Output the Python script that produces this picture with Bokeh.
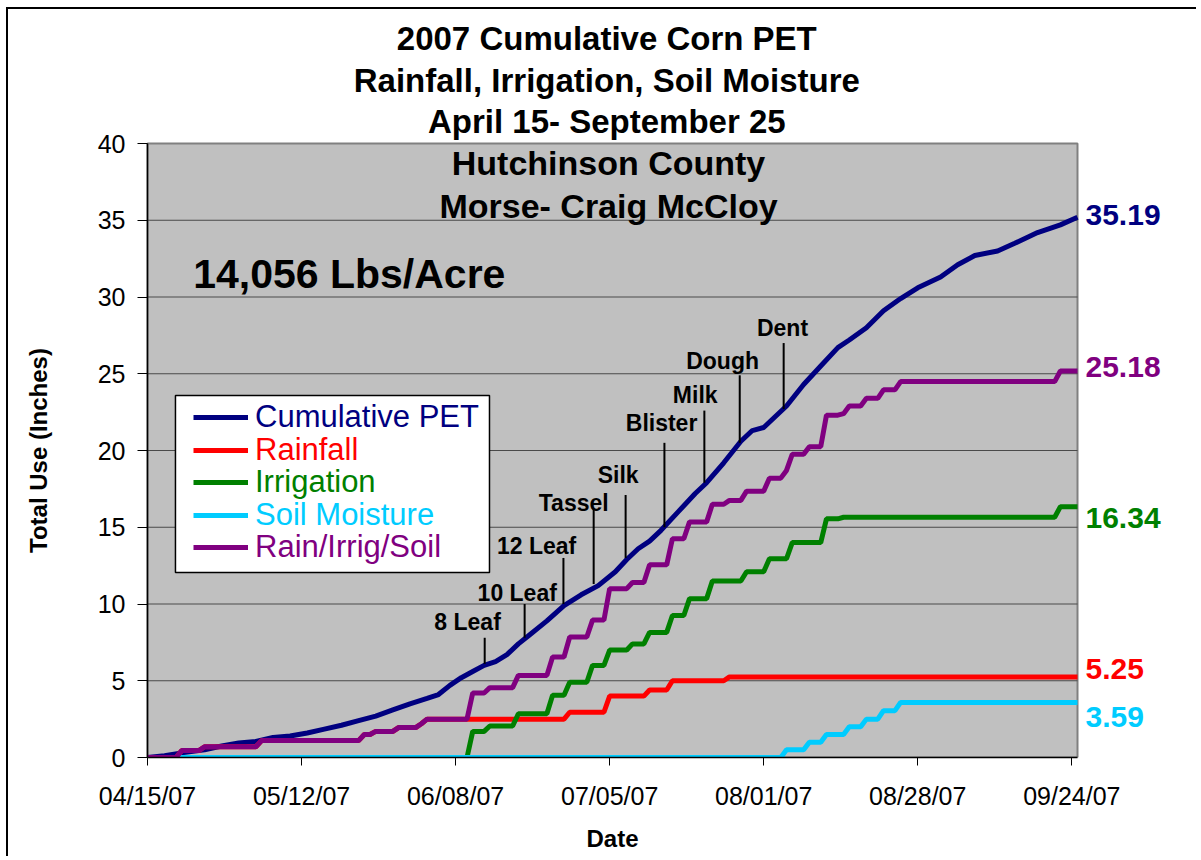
import math
import pandas as pd
from bokeh.plotting import figure
from bokeh.models import (Label, Legend, LegendItem, BoxAnnotation, FixedTicker,
                          DatetimeTickFormatter, Range1d)
from bokeh.core.properties import value
from bokeh.embed import file_html
from bokeh.resources import INLINE

# ---------------------------------------------------------------- data
season_start = "2007-04-15"
season_end = "2007-09-25"

x_tick_dates = ["2007-04-15", "2007-05-12", "2007-06-08", "2007-07-05",
                "2007-08-01", "2007-08-28", "2007-09-24"]
y_ticks = [0, 5, 10, 15, 20, 25, 30, 35, 40]

series_names = ["Cumulative PET", "Rainfall", "Irrigation", "Soil Moisture", "Rain/Irrig/Soil"]

pet_dates = ["2007-04-15", "2007-04-18", "2007-04-21", "2007-04-25", "2007-04-28",
             "2007-05-01", "2007-05-04", "2007-05-07", "2007-05-10", "2007-05-13",
             "2007-05-16", "2007-05-19", "2007-05-22", "2007-05-25", "2007-05-28",
             "2007-05-31", "2007-06-03", "2007-06-05", "2007-06-07", "2007-06-09",
             "2007-06-11", "2007-06-13", "2007-06-15", "2007-06-17", "2007-06-19",
             "2007-06-21", "2007-06-24", "2007-06-27", "2007-06-30", "2007-07-03",
             "2007-07-06", "2007-07-08", "2007-07-10", "2007-07-12", "2007-07-14",
             "2007-07-17", "2007-07-20", "2007-07-22", "2007-07-25", "2007-07-28",
             "2007-07-30", "2007-08-01", "2007-08-03", "2007-08-05", "2007-08-08",
             "2007-08-11", "2007-08-14", "2007-08-16", "2007-08-19", "2007-08-22",
             "2007-08-25", "2007-08-28", "2007-09-01", "2007-09-04", "2007-09-07",
             "2007-09-11", "2007-09-14", "2007-09-18", "2007-09-22", "2007-09-25"]
pet_values = [0.0, 0.12, 0.3, 0.5, 0.75, 0.95, 1.05, 1.3, 1.4, 1.6,
              1.85, 2.1, 2.4, 2.7, 3.1, 3.5, 3.85, 4.1, 4.7, 5.2,
              5.6, 6.0, 6.25, 6.7, 7.4, 8.0, 8.9, 9.9, 10.6, 11.2,
              12.1, 12.9, 13.6, 14.1, 14.8, 16.0, 17.2, 17.9, 19.2, 20.6,
              21.3, 21.5, 22.2, 22.9, 24.3, 25.5, 26.7, 27.2, 28.0, 29.1,
              29.9, 30.6, 31.3, 32.1, 32.7, 33.0, 33.5, 34.2, 34.7, 35.19]

# cumulative series: dates on which the running total changes, and the new total
rain_dates = ["2007-04-21", "2007-04-25", "2007-05-05", "2007-05-23", "2007-05-25",
              "2007-05-29", "2007-06-02", "2007-06-03", "2007-06-28", "2007-07-05",
              "2007-07-12", "2007-07-16", "2007-07-26"]
rain_values = [0.45, 0.7, 1.1, 1.5, 1.7, 1.95, 2.2, 2.5, 2.95, 4.0, 4.4, 5.0, 5.25]

irrig_dates = ["2007-06-11", "2007-06-14", "2007-06-19", "2007-06-25", "2007-06-28",
               "2007-07-02", "2007-07-05", "2007-07-09", "2007-07-12", "2007-07-16",
               "2007-07-19", "2007-07-23", "2007-07-29", "2007-08-02", "2007-08-06",
               "2007-08-12", "2007-08-15", "2007-09-22"]
irrig_values = [1.7, 2.05, 2.85, 4.05, 4.9, 6.0, 7.0, 7.4, 8.15, 9.25,
                10.35, 11.5, 12.1, 12.95, 14.0, 15.55, 15.65, 16.34]

soil_dates = ["2007-08-05", "2007-08-09", "2007-08-12", "2007-08-16", "2007-08-19",
              "2007-08-22", "2007-08-25"]
soil_values = [0.5, 1.0, 1.5, 2.0, 2.5, 3.05, 3.59]

total_dates = ["2007-04-21", "2007-04-25", "2007-05-05", "2007-05-23", "2007-05-25",
               "2007-05-29", "2007-06-02", "2007-06-03", "2007-06-11", "2007-06-14",
               "2007-06-19", "2007-06-25", "2007-06-28", "2007-07-02", "2007-07-05",
               "2007-07-09", "2007-07-12", "2007-07-16", "2007-07-19", "2007-07-23",
               "2007-07-26", "2007-07-29", "2007-08-02", "2007-08-05", "2007-08-06",
               "2007-08-09", "2007-08-12", "2007-08-15", "2007-08-16", "2007-08-19",
               "2007-08-22", "2007-08-25", "2007-09-22"]
total_values = [0.45, 0.7, 1.1, 1.5, 1.7, 1.95, 2.2, 2.5, 4.2, 4.55,
                5.35, 6.55, 7.85, 8.95, 11.0, 11.4, 12.55, 14.25, 15.35, 16.5,
                16.75, 17.35, 18.2, 18.7, 19.75, 20.25, 22.3, 22.4, 22.9, 23.4,
                23.95, 24.49, 25.18]

# growth stages (days after April 15; marker line spans in inches)
stage_names = ["8 Leaf", "10 Leaf", "12 Leaf", "Tassel", "Silk", "Blister", "Milk", "Dough", "Dent"]
stage_day = [59.1, 66.1, 72.9, 78.2, 83.8, 90.6, 97.6, 103.8, 111.5]
stage_line_top = [7.8, 10.0, 13.0, 16.2, 17.1, 20.5, 22.6, 24.9, 27.0]
stage_line_bottom = [6.1, 7.8, 10.0, 11.3, 13.0, 15.0, 17.9, 20.5, 22.7]
stage_text_day = [56.1, 64.8, 68.2, 74.7, 82.5, 90.1, 96.0, 100.8, 111.3]
stage_text_value = [8.8, 10.7, 13.8, 16.6, 18.4, 21.8, 23.6, 25.8, 28.0]

title_lines = ["2007 Cumulative Corn PET", "Rainfall, Irrigation, Soil Moisture",
               "April 15- September 25"]
subtitle_lines = ["Hutchinson County", "Morse- Craig McCloy"]
yield_text = "14,056 Lbs/Acre"
x_title = "Date"
y_title = "Total Use (Inches)"

# ---------------------------------------------------------------- helpers
t0 = pd.Timestamp(season_start)
t1 = pd.Timestamp(season_end)
season_days = (t1 - t0).days


def ms(day):
    return (t0 + pd.Timedelta(days=day)).value / 1e6


def ts_ms(s):
    return pd.Timestamp(s).value / 1e6


days = pd.date_range(t0, t1, freq="D")


def daily(change_dates, change_values):
    s = pd.Series(change_values, index=pd.to_datetime(change_dates))
    return s.reindex(days).ffill().fillna(0.0)


FONT = "Liberation Sans"
colors = ["#000080", "#FF0000", "#008000", "#00CCFF", "#800080"]

# ---------------------------------------------------------------- layout
W, H = 1190, 849              # canvas (the whole canvas is the frame)
OX, OY = 139, 748             # canvas position of (Apr 15, 0)
AREA_W, AREA_H = 930, 614     # grey plot area in pixels
ppd = AREA_W / season_days    # pixels per day
ppi = AREA_H / 40.0           # pixels per inch
x_lo, x_hi = -OX / ppd, (W - OX) / ppd
y_lo, y_hi = -(H - OY) / ppi, OY / ppi

p = figure(width=W, height=H, x_axis_type="datetime",
           output_backend="svg", toolbar_location=None,
           x_range=Range1d(ms(x_lo), ms(x_hi)), y_range=Range1d(y_lo, y_hi),
           background_fill_color="white", border_fill_color="white",
           min_border=0, min_border_left=0, min_border_right=0,
           min_border_top=0, min_border_bottom=0)
p.styles = {"margin-left": "6px", "margin-top": "7px",
            "border-left": "2px solid black", "border-top": "2px solid black"}
p.outline_line_color = None
p.grid.visible = False

# grey plot area with its border and horizontal gridlines
p.quad(left=[ms(0)], right=[ms(season_days)], bottom=[0], top=[40],
       fill_color="#C0C0C0", line_color="#808080", line_width=2)
p.segment(x0=[ms(0)] * (len(y_ticks) - 2), x1=[ms(season_days)] * (len(y_ticks) - 2),
          y0=y_ticks[1:-1], y1=y_ticks[1:-1], line_color="#4a4a4a", line_width=1)

p.xaxis.fixed_location = 0
p.yaxis.fixed_location = ms(0)
p.xaxis.ticker = FixedTicker(ticks=[ts_ms(s) for s in x_tick_dates])
fmt = "%m/%d/%y"
p.xaxis.formatter = DatetimeTickFormatter(days=fmt, months=fmt, years=fmt, hours=fmt,
                                          hourmin=fmt, minutes=fmt, seconds=fmt)
p.yaxis.ticker = FixedTicker(ticks=y_ticks)
p.xaxis.bounds = (ms(0), ms(season_days))
p.yaxis.bounds = (0, 40)

p.axis.minor_tick_line_color = None
p.axis.major_tick_in = 0
p.xaxis.major_tick_out = 8
p.yaxis.major_tick_out = 10
p.axis.axis_line_color = "black"
p.axis.axis_line_width = 1.5
p.axis.major_tick_line_color = "black"
p.axis.major_label_text_font = FONT
p.axis.major_label_text_font_size = "25px"
p.axis.major_label_text_color = "black"
p.xaxis.major_label_standoff = 16
p.yaxis.major_label_standoff = 12

# ---------------------------------------------------------------- series
r_pet = p.line(pd.to_datetime(pet_dates), pet_values, line_color=colors[0], line_width=5)
renderers = [r_pet]
for dts, vals, c in [(rain_dates, rain_values, colors[1]),
                     (irrig_dates, irrig_values, colors[2]),
                     (soil_dates, soil_values, colors[3]),
                     (total_dates, total_values, colors[4])]:
    s = daily(dts, vals)
    renderers.append(p.line(s.index, s.values, line_color=c, line_width=5))

# keep the lines inside the plot area (mask everything below zero)
p.quad(left=[ms(x_lo)], right=[ms(x_hi)], bottom=[y_lo], top=[0],
       fill_color="white", line_color=None)

# axis titles
p.text(x=[ms((612 - 147) / ppd)], y=[-(838 - 757) / ppi], text=[x_title],
       text_align="center", text_baseline="middle", text_font=value(FONT),
       text_font_style="bold", text_font_size="24px", text_color="black")
p.text(x=[ms((38 - 147) / ppd)], y=[(757 - 450) / ppi], text=[y_title], angle=math.pi / 2,
       text_align="center", text_baseline="middle", text_font=value(FONT),
       text_font_style="bold", text_font_size="24px", text_color="black")

# ---------------------------------------------------------------- growth stages
p.segment(x0=[ms(d) for d in stage_day], y0=stage_line_top,
          x1=[ms(d) for d in stage_day], y1=stage_line_bottom,
          line_color="black", line_width=2)
p.text(x=[ms(d) for d in stage_text_day], y=stage_text_value, text=stage_names,
       text_align="center", text_baseline="middle", text_font=value(FONT),
       text_font_style="bold", text_font_size="23px", text_color="black")

# ---------------------------------------------------------------- titles
for txt, yv in zip(title_lines, [46.84, 44.10, 41.43]):
    p.add_layout(Label(x=ms(80.5), y=yv, text=txt, text_align="center",
                       text_baseline="middle", text_font=FONT, text_font_style="bold",
                       text_font_size="33px", text_color="black"))
for txt, yv in zip(subtitle_lines, [38.70, 35.90]):
    p.add_layout(Label(x=ms(80.8), y=yv, text=txt, text_align="center",
                       text_baseline="middle", text_font=FONT, text_font_style="bold",
                       text_font_size="34px", text_color="black"))
p.add_layout(Label(x=ms(8.0), y=31.5, text=yield_text, text_align="left",
                   text_baseline="middle", text_font=FONT, text_font_style="bold",
                   text_font_size="41px", text_color="black"))

# ---------------------------------------------------------------- end values
final_values = [pet_values[-1], rain_values[-1], irrig_values[-1], soil_values[-1], total_values[-1]]
label_offsets = [2, 8, -11, -15, 4]
for v, c, off in zip(final_values, colors, label_offsets):
    p.add_layout(Label(x=ms(season_days), y=v, x_offset=8, y_offset=off,
                       text="%.2f" % v, text_align="left", text_baseline="middle",
                       text_font=FONT, text_font_style="bold", text_font_size="30px",
                       text_color=c))

# ---------------------------------------------------------------- legend
p.add_layout(BoxAnnotation(left=ms(4.9), right=ms(59.94), bottom=12.05, top=23.58,
                           fill_color="white", fill_alpha=1.0, line_color="black",
                           line_width=1.5, line_alpha=1.0))
frame_bottom_page = 9 + H
row_centers = [417, 449.5, 482, 514.5, 547]   # page rows
for name, r, c, rc in zip(series_names, renderers, colors, row_centers):
    lg = Legend(items=[LegendItem(label=name, renderers=[r])],
                location=(193 - 8, frame_bottom_page - (rc + 16) - 2),
                padding=0, margin=0, spacing=0, label_standoff=7,
                glyph_width=55, glyph_height=32, label_height=32,
                label_text_font=FONT, label_text_font_size="31px",
                label_text_color=c, border_line_color=None,
                background_fill_alpha=0.0)
    p.add_layout(lg)

open("out.html", "w").write(file_html(p, INLINE))
